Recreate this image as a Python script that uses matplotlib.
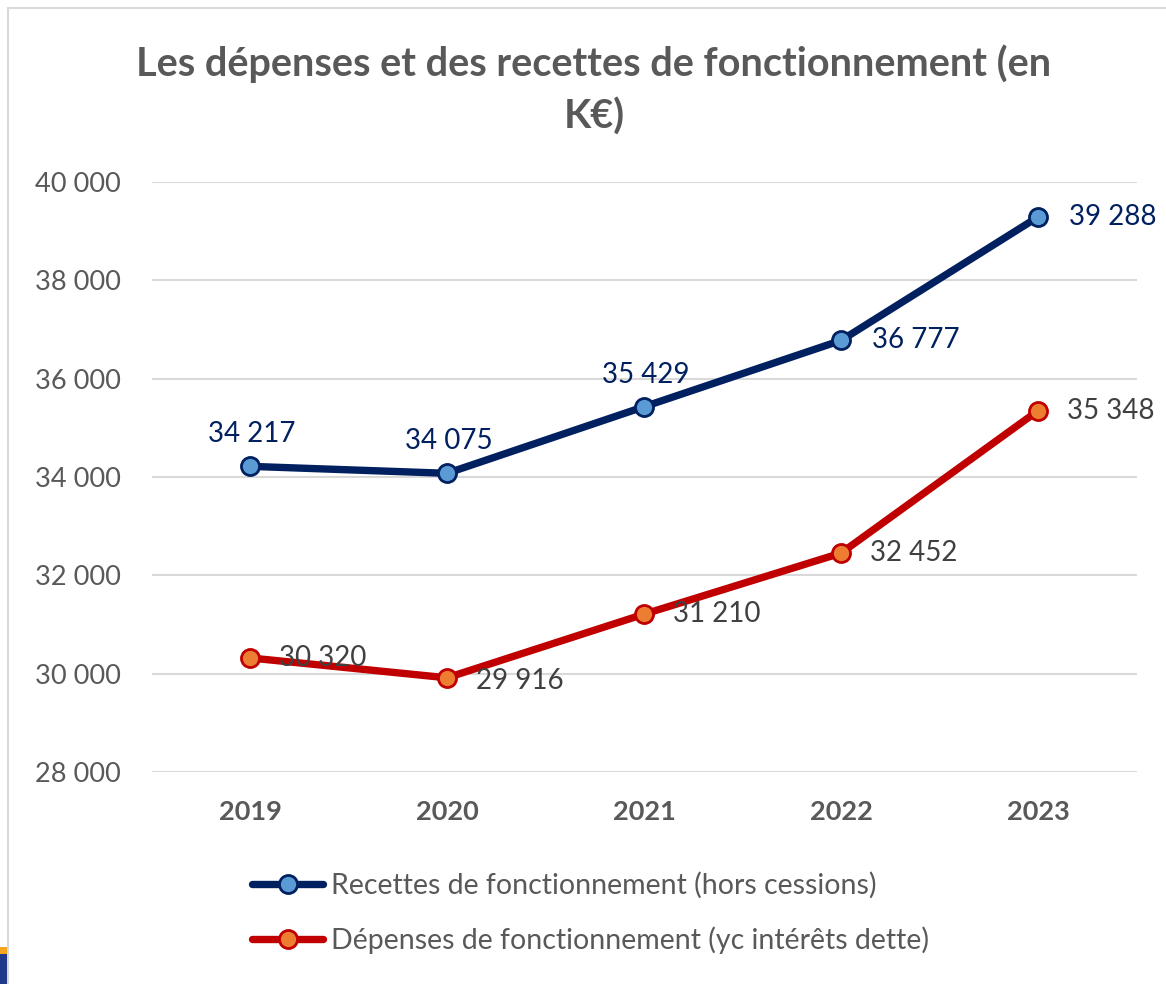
import matplotlib
matplotlib.use("Agg")
import matplotlib.pyplot as plt
from matplotlib.patches import Rectangle
from matplotlib.lines import Line2D

years = ["2019", "2020", "2021", "2022", "2023"]
recettes = [34217, 34075, 35429, 36777, 39288]
depenses = [30320, 29916, 31210, 32452, 35348]
yticks = [28000, 30000, 32000, 34000, 36000, 38000, 40000]
ytick_labels = ["28 000", "30 000", "32 000", "34 000", "36 000", "38 000", "40 000"]
title = "Les dépenses et des recettes de fonctionnement (en\nK€)"
legend_labels = ["Recettes de fonctionnement (hors cessions)",
                 "Dépenses de fonctionnement (yc intérêts dette)"]

plt.rcParams['font.family'] = ['Lato', 'DejaVu Sans']

W, H = 1166, 984
fig = plt.figure(figsize=(W / 100, H / 100), dpi=100)
fig.patch.set_facecolor("white")

ax = fig.add_axes([151.5 / W, 1 - 772 / H, 985 / W, 590 / H])
x = list(range(len(years)))
ax.set_xlim(-0.5, len(years) - 0.5)
ax.set_ylim(28000, 40000)

navy = "#002060"
red = "#C00000"
grey = "#595959"

ax.set_yticks(yticks)
ax.set_yticklabels(ytick_labels, fontsize=19.5, color=grey)
ax.set_xticks(x)
ax.set_xticklabels(years, fontsize=19.5, color=grey, fontweight="bold")
ax.tick_params(axis="both", length=0)
ax.tick_params(axis="y", pad=22)
ax.tick_params(axis="x", pad=20)
for s in ax.spines.values():
    s.set_visible(False)
ax.grid(axis="y", color="#D9D9D9", linewidth=1.5)
ax.set_axisbelow(True)

mk = dict(marker="o", markersize=13, markeredgewidth=2, solid_capstyle="round")
ax.plot(x, recettes, color=navy, linewidth=5.3, markerfacecolor="#5B9BD5",
        markeredgecolor=navy, zorder=3, **mk)
ax.plot(x, depenses, color=red, linewidth=5.3, markerfacecolor="#ED7D31",
        markeredgecolor=red, zorder=3, **mk)

fs_lab = 20
# Recettes labels
for i, v in enumerate(recettes):
    lab = f"{v:,}".replace(",", " ")
    if i < 3:
        ax.annotate(lab, (i, v), xytext=(2, 32), textcoords="offset pixels",
                    ha="center", va="center", fontsize=fs_lab, color=navy, zorder=4)
    else:
        ax.annotate(lab, (i, v), xytext=(31, 0), textcoords="offset pixels",
                    ha="left", va="center", fontsize=fs_lab, color=navy, zorder=4)
# Dépenses labels
for i, v in enumerate(depenses):
    lab = f"{v:,}".replace(",", " ")
    dy = -3 if i == 1 else 0
    ax.annotate(lab, (i, v), xytext=(29, dy), textcoords="offset pixels",
                ha="left", va="center", fontsize=fs_lab, color="#404040", zorder=4)

fig.text(594 / W, 1 - 90 / H, title, ha="center", va="center", fontsize=28.5,
         fontweight="bold", color=grey, linespacing=1.5)

handles = [
    Line2D([0], [0], color=navy, linewidth=5.3, markerfacecolor="#5B9BD5",
           markeredgecolor=navy, **mk),
    Line2D([0], [0], color=red, linewidth=5.3, markerfacecolor="#ED7D31",
           markeredgecolor=red, **mk),
]
fig.legend(handles, legend_labels, loc="center left",
           bbox_to_anchor=(238 / W, 1 - 913 / H), frameon=False,
           fontsize=20.5, labelcolor=grey, handlelength=2.5, handletextpad=0.28,
           labelspacing=0.95, borderpad=0)

# frame of the slide crop
fig.patches.append(Rectangle((8 / W, -0.1), 1.2, 1 - 8 / H + 0.1,
                             transform=fig.transFigure, fill=False,
                             edgecolor="#D9D9D9", linewidth=1.5))
fig.patches.append(Rectangle((0, 0), 7 / W, 30 / H, transform=fig.transFigure,
                             facecolor="#1F3A8A", edgecolor="none"))
fig.patches.append(Rectangle((0, 30 / H), 7 / W, 7 / H, transform=fig.transFigure,
                             facecolor="#F5A623", edgecolor="none"))

fig.savefig("out.png", dpi=100, facecolor="white")
